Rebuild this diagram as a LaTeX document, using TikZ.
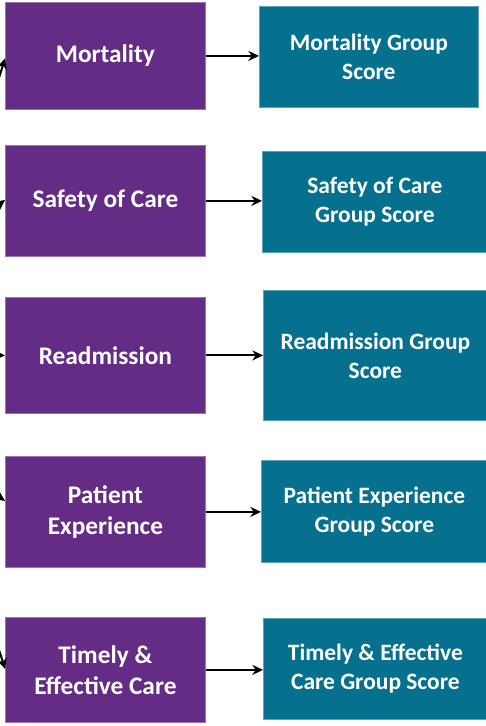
\documentclass[tikz,border=0pt]{standalone}
\usepackage{fontspec}
\setmainfont{Carlito}
\usetikzlibrary{arrows.meta,calc}
\definecolor{pbox}{HTML}{642C84}
\definecolor{tbox}{HTML}{06718F}
\begin{document}
\begin{tikzpicture}[x=0.75pt,y=-0.75pt,
  pstyle/.style={fill=pbox, draw=pbox!65!white, line width=0.6pt, text=white,
    font=\bfseries\fontsize{19}{23.5}\selectfont, align=center, inner sep=0pt,
    anchor=north west, minimum width=150pt},
  tstyle/.style={fill=tbox, draw=tbox!65!white, line width=0.6pt, text=white,
    font=\bfseries\fontsize{17.6}{21.8}\selectfont, align=center, inner sep=0pt,
    anchor=north west},
  conn/.style={-{Stealth[length=8pt,width=7.5pt]}, line width=1.5pt, black}]
\useasboundingbox (0,0) rectangle (486,726);
\clip (0,0) rectangle (486,726);
\fill[white] (0,0) rectangle (486,726);

% purple boxes
\node[pstyle, minimum height=80.25pt] (p1) at (5,2) {\raisebox{-1.2pt}{Mortality}};
\node[pstyle, minimum height=83.25pt] (p2) at (5,145) {\raisebox{-1.2pt}{Safety of Care}};
\node[pstyle, minimum height=87pt] (p3) at (5,297) {Readmission};
\node[pstyle, minimum height=83.25pt] (p4) at (5,456) {Patient\\Experience};
\node[pstyle, minimum height=78.75pt] (p5) at (5,617) {Timely \&\\Effective Care};

% teal boxes
\node[tstyle, minimum width=164.25pt, minimum height=75.75pt] (t1) at (259,6) {Mortality Group\\Score};
\node[tstyle, minimum width=168.75pt, minimum height=75.75pt] (t2) at (262,151) {Safety of Care\\Group Score};
\node[tstyle, minimum width=168pt, minimum height=97.5pt] (t3) at (263,290) {Readmission Group\\Score};
\node[tstyle, minimum width=169.5pt, minimum height=76.5pt] (t4) at (261,460) {Patient Experience\\Group Score};
\node[tstyle, minimum width=168pt, minimum height=75.75pt] (t5) at (263,618) {Timely \& Effective\\Care Group Score};

% middle connectors
\foreach \i in {1,...,5}{
  \draw[conn] (p\i.east) -- (p\i.east -| t\i.west);
}

% incoming connectors from the left (source off-picture)
\coordinate (s1) at (-18,110);
\coordinate (s2) at (-25,216);
\coordinate (s3) at (-20,355);
\coordinate (s4) at (-25,488);
\coordinate (s5) at (-18,615);
\draw[conn] (s1) .. controls (-4,88) .. ($(p1.west)+(0,2.5)$);
\draw[conn] (s2) .. controls (-8,210) .. ($(p2.west)+(0,-1)$);
\draw[conn] (s3) -- (p3.west);
\draw[conn] (s4) .. controls (-8,492) .. ($(p4.west)+(0,-11)$);
\draw[conn] (s5) .. controls (-4,640) .. ($(p5.west)+(0,-1)$);
\end{tikzpicture}
\end{document}
